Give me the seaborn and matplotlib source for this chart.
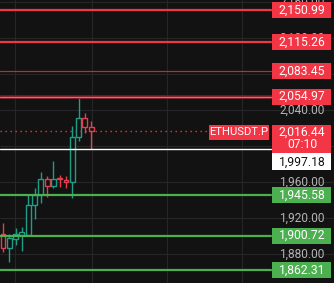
import matplotlib
matplotlib.use("Agg")
import matplotlib.pyplot as plt
import matplotlib.transforms as mtransforms
from matplotlib.patches import Rectangle
import seaborn as sns
import numpy as np

# ---------------- data ----------------
opens  = [1903.1, 1886.6, 1897.6, 1901.3, 1901.3, 1934.3, 1945.7, 1964.1, 1955.6, 1964.8, 1963.0, 1960.4, 2010.0, 2031.0, 2021.0]
highs  = [1914.5, 1902.4, 1909.0, 1910.9, 1945.7, 1953.4, 1971.8, 1966.6, 1983.1, 1968.5, 1967.4, 2022.5, 2053.5, 2036.5, 2028.3]
lows   = [1882.2, 1871.8, 1890.2, 1884.0, 1900.5, 1918.9, 1936.5, 1943.9, 1953.4, 1954.9, 1953.4, 1942.8, 2006.3, 2014.4, 1996.8]
closes = [1886.6, 1898.0, 1902.4, 1905.3, 1934.3, 1945.7, 1964.1, 1955.6, 1964.1, 1963.7, 1960.4, 2010.0, 2031.0, 2021.0, 2016.44]

resistance_levels = [2150.99, 2115.26, 2083.45, 2054.97]
support_levels = [1945.58, 1900.72, 1862.31]
last_price = 2016.44
ref_price = 1997.18
symbol = "ETHUSDT.P"
countdown = "07:10"
grid_values = [1880, 1920, 1960, 2000, 2040, 2080, 2120, 2160]
tick_labels_shown = [1880, 1920, 1960, 2040, 2120, 2160]

# ---------------- style ----------------
BG = "#121212"
GRID = "#262626"
RED = "#f23645"
GREEN_C = "#1f9e87"
RED_C = "#e2404d"
GREEN_L = "#4caf50"
TICK = "#b4b4b4"

sns.set_theme(style="dark")
plt.rcParams['font.family'] = ['Roboto', 'DejaVu Sans']
FW = "normal"
FS = 8.7

W, H = 334, 283
fig = plt.figure(figsize=(W / 100, H / 100), dpi=100)
fig.patch.set_facecolor(BG)
ax = fig.add_axes([0, 0, 1, 1])
ax.set_facecolor(BG)

step_px = 6.3
x0_px = 3.0
ax.set_xlim(-x0_px / step_px, (W - x0_px) / step_px)
y_top, y_bot = 2162.08, 1848.33
ax.set_ylim(y_bot, y_top)
upp = (y_top - y_bot) / H  # data units per pixel

def px2x(px):
    return (px - x0_px) / step_px

# grid
ax.set_xticks([px2x(p) for p in (15, 92, 167, 242)])
ax.set_yticks(grid_values)
ax.grid(True, color=GRID, linewidth=0.8)
ax.tick_params(length=0, labelbottom=False, labelleft=False)
for s in ax.spines.values():
    s.set_visible(False)

blend = mtransforms.blended_transform_factory(ax.transAxes, ax.transData)

# tick labels (right price scale)
for v in tick_labels_shown:
    ax.text(302 / W, v, f"{v:,.2f}", transform=blend, ha="center", va="center",
            color=TICK, fontsize=8.6, zorder=3, clip_on=True)

# candles
idx = np.arange(len(opens))
for i, o, h, l, c in zip(idx, opens, highs, lows, closes):
    col = GREEN_C if c >= o else RED_C
    ax.vlines(i, l, h, color=col, linewidth=1, zorder=4)
    ax.bar(i, max(abs(c - o), 1.2), bottom=min(o, c), width=0.78,
           facecolor=BG, edgecolor=col, linewidth=1, zorder=5)

line_end = 271 / W

# resistance lines
for v in resistance_levels:
    if v == resistance_levels[2]:
        ax.axhline(v, xmax=line_end, color=RED, linewidth=0.9, alpha=0.75, zorder=6)
    elif v == resistance_levels[3]:
        ax.axhline(v, xmax=line_end, color="#7a1c26", linewidth=2.6, zorder=6)
        ax.axhline(v, xmax=line_end, color="#f06470", linewidth=0.9, zorder=6)
    else:
        ax.axhline(v, xmax=line_end, color=RED, linewidth=1.6, zorder=6)

# support lines
for v in support_levels:
    ax.axhline(v, xmax=line_end, color=GREEN_L, linewidth=1.6, zorder=6)

# reference white line
ax.axhline(ref_price, xmax=line_end, color="white", linewidth=1, zorder=6)

# last price dotted line
ax.plot([ax.get_xlim()[0], px2x(209)], [last_price, last_price], color=RED,
        linestyle=(0, (1, 2.6)), linewidth=1, zorder=6)

box_x, box_w = 272 / W, 59 / W
box_h = 16 * upp
tx = 302 / W

def label_box(v, text, face, tcolor="white"):
    ax.add_patch(Rectangle((box_x, v - box_h / 2), box_w, box_h, transform=blend,
                           facecolor=face, edgecolor="none", zorder=8))
    ax.text(tx, v, text, transform=blend, ha="center", va="center",
            color=tcolor, fontsize=FS, fontweight=FW, zorder=9)

for v in resistance_levels:
    label_box(v, f"{v:,.2f}", RED)
for v in support_levels:
    label_box(v, f"{v:,.2f}", GREEN_L)

# last price box with countdown (two lines)
top_y = last_price + 6 * upp
bh2 = 28 * upp
ax.add_patch(Rectangle((box_x, top_y - bh2), box_w, bh2, transform=blend,
                       facecolor=RED, edgecolor="none", zorder=8))
ax.text(tx, last_price - 0.5 * upp, f"{last_price:,.2f}", transform=blend, ha="center",
        va="center", color="white", fontsize=FS, fontweight=FW, zorder=9)
ax.text(tx, last_price - 13 * upp, countdown, transform=blend, ha="center",
        va="center", color="white", fontsize=FS, fontweight=FW, zorder=9)

# symbol box
sx0, sw = 209 / W, 60 / W
ax.add_patch(Rectangle((sx0, last_price - 8.5 * upp), sw, 15 * upp, transform=blend,
                       facecolor=RED, edgecolor="none", zorder=8))
ax.text(sx0 + sw / 2, last_price - 1 * upp, symbol, transform=blend, ha="center",
        va="center", color="white", fontsize=8.1, fontweight=FW, zorder=9)

# white reference box (pushed below the red box)
wb_top = top_y - bh2
ax.add_patch(Rectangle((box_x, wb_top - 17 * upp), box_w, 17 * upp, transform=blend,
                       facecolor="white", edgecolor="none", zorder=8))
ax.text(tx, wb_top - 8.5 * upp, f"{ref_price:,.2f}", transform=blend, ha="center",
        va="center", color="#111111", fontsize=FS, fontweight="normal", zorder=9)

fig.savefig("out.png", dpi=100, facecolor=BG)
